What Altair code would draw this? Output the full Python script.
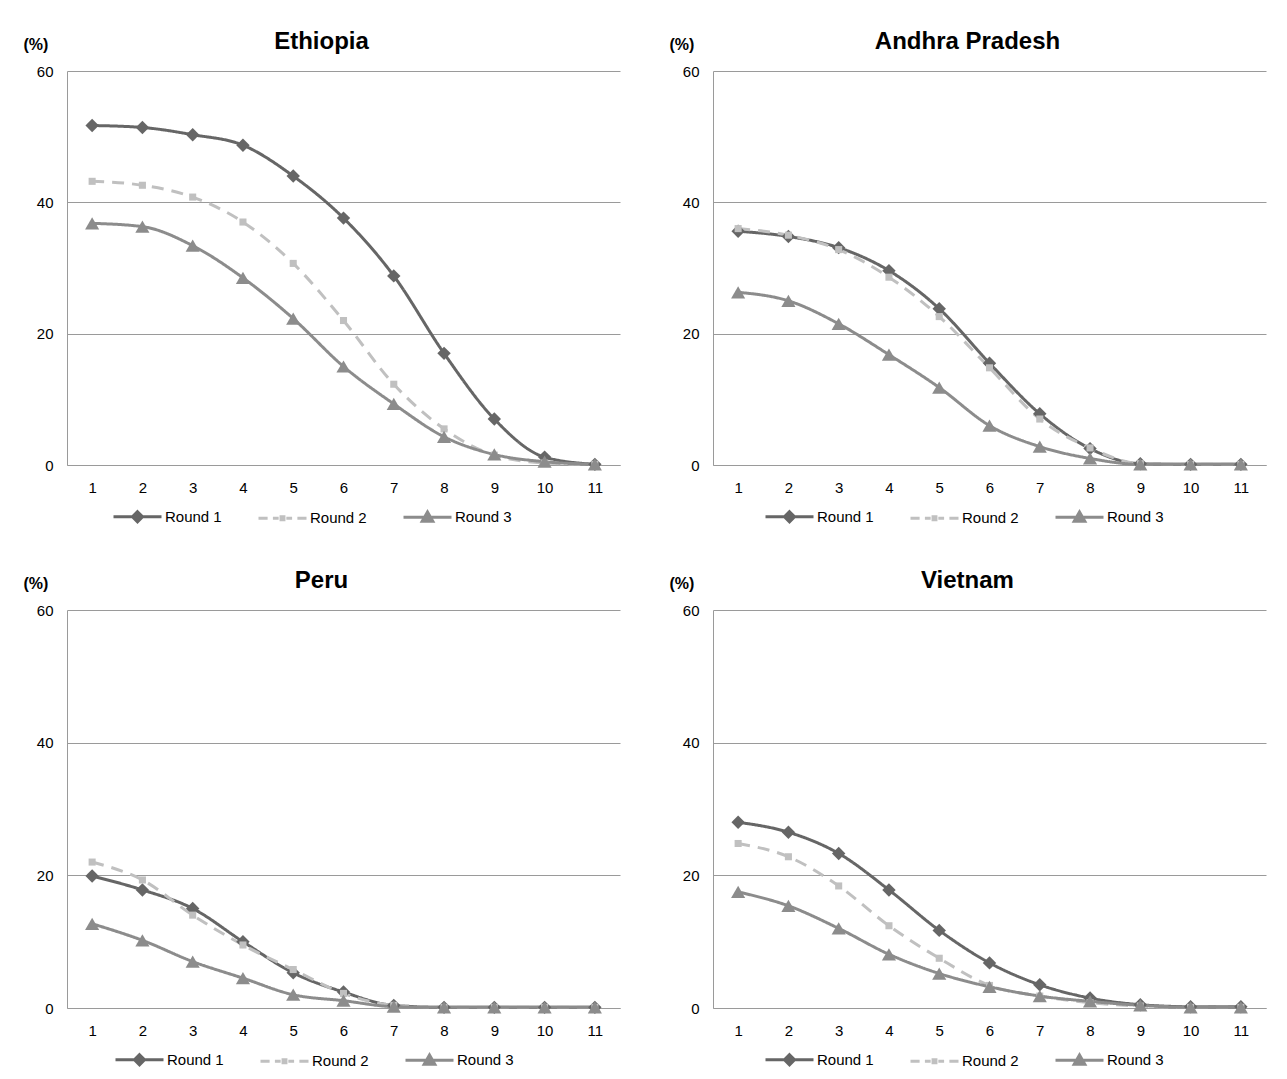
import altair as alt
import pandas as pd

COUNTRIES = ["Ethiopia", "Andhra Pradesh", "Peru", "Vietnam"]
SERIES = ["Round 1", "Round 2", "Round 3"]
X_VALUES = list(range(1, 12))

ETHIOPIA_R1 = [51.7, 51.4, 50.3, 48.7, 44.0, 37.6, 28.8, 17.0, 7.0, 1.2, 0.1]
ETHIOPIA_R2 = [43.2, 42.6, 40.8, 37.0, 30.7, 22.0, 12.3, 5.5, 1.5, 0.3, 0.1]
ETHIOPIA_R3 = [36.8, 36.3, 33.4, 28.5, 22.3, 15.0, 9.3, 4.3, 1.6, 0.5, 0.1]

ANDHRA_R1 = [35.6, 34.8, 33.1, 29.6, 23.8, 15.5, 7.8, 2.5, 0.2, 0.1, 0.1]
ANDHRA_R2 = [36.0, 35.0, 32.8, 28.6, 22.6, 14.8, 7.0, 2.6, 0.2, 0.1, 0.1]
ANDHRA_R3 = [26.3, 25.0, 21.5, 16.8, 11.8, 6.0, 2.8, 1.0, 0.1, 0.1, 0.1]

PERU_R1 = [19.9, 17.8, 15.0, 10.0, 5.3, 2.4, 0.4, 0.1, 0.1, 0.1, 0.1]
PERU_R2 = [22.0, 19.3, 14.0, 9.5, 5.8, 2.2, 0.4, 0.1, 0.1, 0.1, 0.1]
PERU_R3 = [12.7, 10.2, 7.0, 4.5, 2.0, 1.1, 0.2, 0.1, 0.1, 0.1, 0.1]

VIETNAM_R1 = [28.0, 26.5, 23.3, 17.8, 11.7, 6.8, 3.5, 1.5, 0.5, 0.2, 0.2]
VIETNAM_R2 = [24.8, 22.8, 18.4, 12.4, 7.5, 3.4, 1.8, 0.8, 0.3, 0.1, 0.1]
VIETNAM_R3 = [17.5, 15.4, 12.0, 8.1, 5.2, 3.2, 1.8, 1.0, 0.4, 0.1, 0.1]

DATA = {
    "Ethiopia": [ETHIOPIA_R1, ETHIOPIA_R2, ETHIOPIA_R3],
    "Andhra Pradesh": [ANDHRA_R1, ANDHRA_R2, ANDHRA_R3],
    "Peru": [PERU_R1, PERU_R2, PERU_R3],
    "Vietnam": [VIETNAM_R1, VIETNAM_R2, VIETNAM_R3],
}

rows = []
for c in COUNTRIES:
    for s, vals in zip(SERIES, DATA[c]):
        for x, v in zip(X_VALUES, vals):
            rows.append({"country": c, "series": s, "x": x, "value": v})
df = pd.DataFrame(rows)

COLORS = ["#666666", "#c0c0c0", "#8c8c8c"]
DASHES = [[1, 0], [12, 8], [1, 0]]
GRID = "#9a9a9a"
FONT = "Liberation Sans"
MARKERS = [("diamond", 180), ("square", 50), ("triangle-up", 200)]
LEGEND_PATHS = [
    "M-1,0H1M0,-0.21L0.21,0L0,0.21L-0.21,0ZM0,-0.09L0.09,0L0,0.09L-0.09,0Z",
    "M-1,0H-0.62M-0.4,0H-0.16M0.16,0H0.4M0.62,0H1M-0.06,-0.06H0.06V0.06H-0.06Z",
    "M-1,0H1M0,-0.22L0.22,0.16L-0.22,0.16ZM0,-0.07L0.07,0.08L-0.07,0.08Z",
]

W = 553


def panel(country, legend_x, H):
    base = alt.Chart(df).transform_filter(alt.datum.country == country)
    X = alt.X(
        "x:O",
        title=None,
        axis=alt.Axis(labelAngle=0, ticks=False, domain=True, domainColor=GRID,
                      labelPadding=15, labelFontSize=15, labelColor="#000",
                      labelFont=FONT),
    )
    Y = alt.Y(
        "value:Q",
        scale=alt.Scale(domain=[0, 60]),
        axis=alt.Axis(values=[0, 20, 40, 60], ticks=False, domainColor=GRID,
                      gridColor=GRID, gridOpacity=1, labelPadding=14,
                      labelFontSize=15, labelColor="#000", labelFont=FONT,
                      title="(%)", titleAngle=0, titleAlign="left",
                      titleBaseline="bottom", titleX=-44, titleY=-19,
                      titleFont=FONT, titleFontSize=16, titleFontWeight="bold",
                      titleColor="#000"),
    )
    layers = []
    for s, col, dash in zip(SERIES, COLORS, DASHES):
        layers.append(
            base.transform_filter(alt.datum.series == s)
            .mark_line(interpolate="monotone", strokeWidth=3, color=col, strokeDash=dash)
            .encode(x=X, y=Y)
        )
    for s, col, (shape, size) in zip(SERIES, COLORS, MARKERS):
        layers.append(
            base.transform_filter(alt.datum.series == s)
            .mark_point(shape=shape, filled=True, size=size, opacity=1, color=col)
            .encode(x=X, y=Y)
        )
    leg = alt.Legend(orient="none", legendX=legend_x, legendY=H + 26, direction="horizontal",
                     title=None, labelFontSize=15, labelFont=FONT, labelColor="#000",
                     symbolSize=2304, symbolStrokeWidth=3, labelOffset=2,
                     columnPadding=30)
    layers.append(
        base.transform_filter(alt.datum.x == 1)
        .mark_point(filled=False, strokeWidth=3, size=2304, opacity=0)
        .encode(
            x=X, y=Y,
            color=alt.Color("series:N", scale=alt.Scale(domain=SERIES, range=COLORS), legend=leg),
            shape=alt.Shape("series:N", scale=alt.Scale(domain=SERIES, range=LEGEND_PATHS), legend=leg),
        )
    )
    return alt.layer(*layers).properties(
        width=W, height=H,
        title=alt.Title(country, anchor="middle", frame="group", fontSize=24,
                        font=FONT, fontWeight="bold", color="#000", offset=-18, dx=-22),
    )


top = alt.hconcat(panel("Ethiopia", 45, 394), panel("Andhra Pradesh", 51, 394), spacing=49).resolve_scale(
    color="independent", shape="independent").resolve_legend(color="independent", shape="independent")
bottom = alt.hconcat(panel("Peru", 47, 398), panel("Vietnam", 51, 398), spacing=49).resolve_scale(
    color="independent", shape="independent").resolve_legend(color="independent", shape="independent")
chart = (
    alt.vconcat(top, bottom, spacing=41)
    .resolve_scale(color="independent", shape="independent")
    .resolve_legend(color="independent", shape="independent")
    .properties(padding={"left": 15, "top": 22, "right": 5, "bottom": 5}, background="white")
    .configure_view(stroke=None)
    .configure_legend(symbolOpacity=1)
)
chart.save("out.html", embed_options={"renderer": "svg", "actions": False})
